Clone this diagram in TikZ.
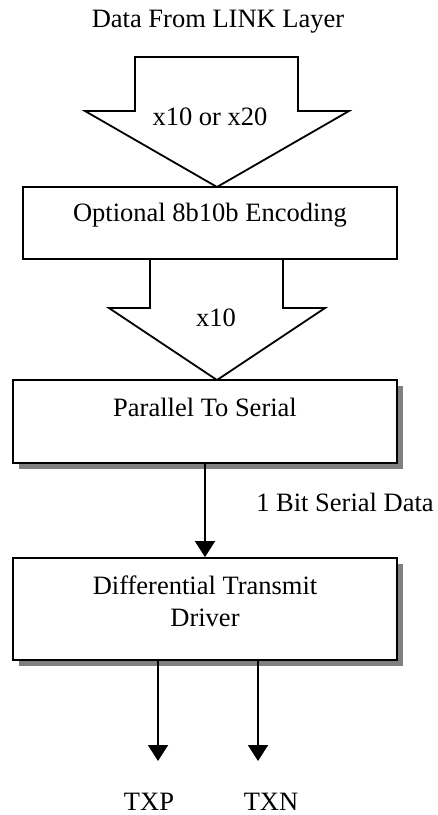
\documentclass[tikz,border=0pt]{standalone}
\usepackage{fontspec}
\setmainfont{Liberation Serif}
\usetikzlibrary{arrows.meta,shadows}
\begin{document}
\begin{tikzpicture}[x=1pt,y=-1pt,
  every node/.style={font=\fontsize{26.5}{32}\selectfont, inner sep=0pt},
  line/.style={line width=1.8pt, line join=miter},
  block/.style={draw, line width=1.8pt, fill=white, rectangle},
  shadowed/.style={block, drop shadow={shadow xshift=6pt, shadow yshift=-6pt, fill=black!50, opacity=1}},
  wire/.style={line width=1.8pt, -{Triangle[width=20pt,length=16pt]}},
  lbl/.style={anchor=center}]
\useasboundingbox (0,0) rectangle (438,815);

% title
\node[lbl] (title) at (218,22) {Data From LINK Layer};

% upper block arrow into the encoder
\draw[line] (135,57) -- (298,57) -- (298,111) -- (349,111) -- (217,187)
  -- (85,111) -- (135,111) -- cycle;
\node[lbl] (w20) at (210,117) {x10 or x20};

% encoder box
\node[block, minimum width=374pt, minimum height=72pt] (enc) at (210,223) {};
\node[lbl] (enctxt) at (210,215) {Optional 8b10b Encoding};

% second block arrow
\draw[line] (150,259) -- (150,308) -- (109,308) -- (217,380) -- (325,308)
  -- (283,308) -- (283,259);
\node[lbl] (w10) at (216,318) {x10};

% serializer box
\node[shadowed, minimum width=384pt, minimum height=83pt] (ser) at (205,421.5) {};
\node[lbl] (sertxt) at (205,407) {Parallel To Serial};

% driver box
\node[shadowed, minimum width=384pt, minimum height=102pt] (drv) at (205,609) {};
\node[lbl, align=center] (drvtxt) at (205,601) {Differential Transmit\\Driver};

% serial link
\draw[wire] (ser.south) -- (drv.north);
\node[lbl] (bitlbl) at (345,502) {1 Bit Serial Data};

% outputs
\coordinate (p) at (158,761);
\coordinate (n) at (258,761);
\draw[wire] (drv.south -| p) -- (p);
\draw[wire] (drv.south -| n) -- (n);
\node[lbl] (txp) at (149,802) {TXP};
\node[lbl] (txn) at (271,802) {TXN};
\end{tikzpicture}
\end{document}
